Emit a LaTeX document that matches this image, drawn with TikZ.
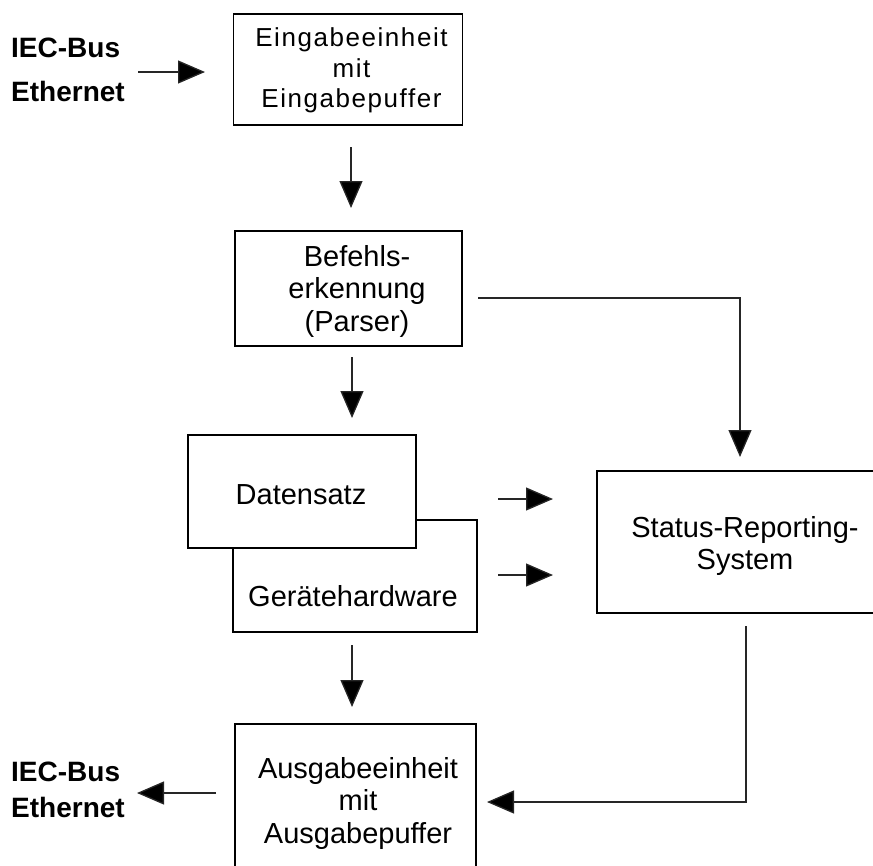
\documentclass[tikz,border=0pt]{standalone}
\usepackage{fontspec}
\setmainfont{Liberation Sans}
\newfontfamily\boxfont{Liberation Sans}
\newfontfamily\topboxfont[LetterSpace=6]{Liberation Sans}
\newfontfamily\labfont{Liberation Sans}
\usetikzlibrary{arrows.meta}
\begin{document}
\begin{tikzpicture}[x=1pt,y=-1pt,
  box/.style={draw=black, line width=1.6pt, fill=white, rectangle, inner sep=0pt},
  txt/.style={inner sep=0pt, align=center, font=\boxfont\fontsize{29}{32.5}\selectfont},
  lab/.style={inner sep=0pt, align=left, anchor=west},
  conn/.style={line width=1.3pt, draw=black!85, -{Triangle[length=27pt,width=23pt,fill=black]}}]
\useasboundingbox (0,0) rectangle (873,865);
\clip (0,0) rectangle (873,865);
% boxes
\node[box, minimum width=229pt, minimum height=111pt] (in) at (348,69.5) {};
\node[txt, font=\topboxfont\fontsize{26}{30.5}\selectfont] (intext) at (351.5,70.5) {Eingabeeinheit\\mit\\Eingabepuffer};
\node[box, minimum width=227pt, minimum height=115pt] (parser) at (348.5,288.5) {};
\node[txt] (parsertext) at (357,291) {Befehls-\\erkennung\\(Parser)};
\node[box, minimum width=244pt, minimum height=112pt] (hw) at (355,576) {};
\node[txt] (hwtext) at (353,596) {Gerätehardware};
\node[box, minimum width=228pt, minimum height=113pt] (data) at (302,491.5) {};
\node[txt] (datatext) at (301,495) {Datensatz};
\node[box, minimum width=293pt, minimum height=142pt] (status) at (743.5,542) {};
\node[txt] (statustext) at (745,546) {Status-Reporting-\\System};
\node[box, minimum width=241pt, minimum height=156pt] (out) at (355.5,802) {};
\node[txt] (outtext) at (358,803) {Ausgabeeinheit\\mit\\Ausgabepuffer};
% labels
\node[lab, font=\labfont\bfseries\fontsize{28}{44}\selectfont] (inlab) at (11,70) {IEC-Bus\\Ethernet};
\node[lab, font=\labfont\bfseries\fontsize{28}{36}\selectfont] (outlab) at (11,790) {IEC-Bus\\Ethernet};
% connector end points
\coordinate (inA) at (138,72);   \coordinate (inB) at (205,72);
\coordinate (d1A) at (351,147);  \coordinate (d1B) at (351,208);
\coordinate (d2A) at (352,357);  \coordinate (d2B) at (352,418);
\coordinate (d3A) at (352,645);  \coordinate (d3B) at (352,707);
\coordinate (psA) at (478,298);  \coordinate (psB) at (740,457);
\coordinate (r1A) at (498,499);  \coordinate (r1B) at (553,499);
\coordinate (r2A) at (498,575);  \coordinate (r2B) at (553,575);
\coordinate (soA) at (746,626);  \coordinate (soB) at (487,802);
\coordinate (ouA) at (216,793);  \coordinate (ouB) at (137,793);
% connectors
\draw[conn] (inA) -- (inB);
\draw[conn] (d1A) -- (d1B);
\draw[conn] (d2A) -- (d2B);
\draw[conn] (d3A) -- (d3B);
\draw[conn] (psA) -| (psB);
\draw[conn] (r1A) -- (r1B);
\draw[conn] (r2A) -- (r2B);
\draw[conn] (soA) |- (soB);
\draw[conn] (ouA) -- (ouB);
\end{tikzpicture}
\end{document}
